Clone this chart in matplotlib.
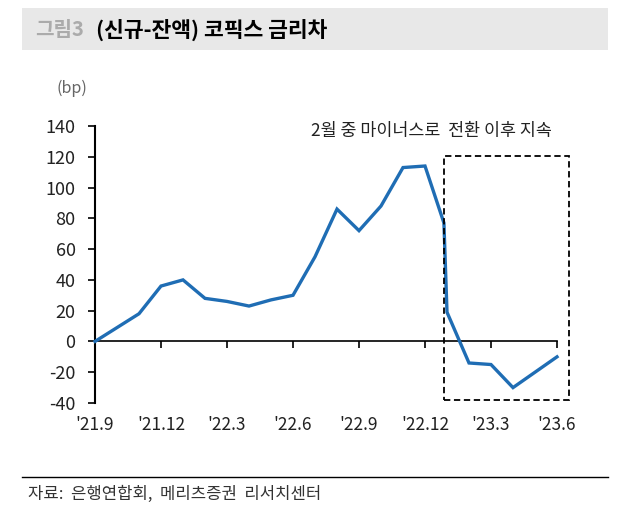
import matplotlib
matplotlib.use("Agg")
import matplotlib.pyplot as plt
from matplotlib.patches import Rectangle

plt.rcParams['font.family'] = ['Noto Sans CJK KR', 'DejaVu Sans']

# data: x as month index from '21.9 (two readings around Jan 2023)
months = [0, 1, 2, 3, 4, 5, 6, 7, 8, 9, 10, 11, 12, 13, 14, 15, 15.86, 16, 17, 18, 19, 20, 21]
values = [0, 9, 18, 36, 40, 28, 26, 23, 27, 30, 55, 86, 72, 88, 113, 114, 77, 19, -14, -15, -30, -20, -10]
tick_pos = [0, 3, 6, 9, 12, 15, 18, 21]
tick_labels = ["'21.9", "'21.12", "'22.3", "'22.6", "'22.9", "'22.12", "'23.3", "'23.6"]
yticks = [-40, -20, 0, 20, 40, 60, 80, 100, 120, 140]
box_x = [15.86, 21.55]
box_y = [-38.2, 120.5]

W, H = 624, 523
fig = plt.figure(figsize=(W / 100, H / 100), dpi=100)

# title band
fig.patches.append(Rectangle((22 / W, 1 - 50 / H), (608 - 22) / W, 42 / H,
                             transform=fig.transFigure, facecolor='#e8e8e8',
                             edgecolor='none', zorder=0))
fig.text(35 / W, 1 - 30 / H, "그림3", fontsize=14.5, fontweight='bold',
         color='#ababab', va='center', ha='left')
fig.text(96 / W, 1 - 30 / H, "(신규-잔액) 코픽스 금리차", fontsize=15.5,
         fontweight='bold', color='black', va='center', ha='left')

ax = fig.add_axes([95 / W, 1 - 403 / H, (557 - 95) / W, (403 - 126) / H])
ax.plot(months, values, color='#1f6db4', linewidth=2.4, solid_joinstyle='miter',
        zorder=3, clip_on=False)

ax.set_xlim(0, 21)
ax.set_ylim(-40, 140)
ax.set_yticks(yticks)
ax.set_yticklabels([str(v) for v in yticks], fontsize=13, color='#222222')
ax.tick_params(axis='y', direction='out', length=5, width=1.2, pad=9)

ax.spines['top'].set_visible(False)
ax.spines['right'].set_visible(False)
ax.spines['left'].set_linewidth(1.5)
ax.spines['bottom'].set_position(('data', 0))
ax.spines['bottom'].set_linewidth(1.2)
ax.set_xticks(tick_pos)
ax.set_xticklabels([])
ax.tick_params(axis='x', direction='out', length=5, width=1.2)

trans = ax.get_xaxis_transform()
for p, lab in zip(tick_pos, tick_labels):
    ax.text(p, -0.08, lab, transform=trans, ha='center', va='center',
            fontsize=12.5, color='#222222')

ax.add_patch(Rectangle((box_x[0], box_y[0]), box_x[1] - box_x[0], box_y[1] - box_y[0],
                       fill=False, edgecolor='black', linestyle=(0, (3.5, 2)),
                       linewidth=1.3, clip_on=False, zorder=4))

fig.text(431 / W, 1 - 131 / H, "2월 중 마이너스로  전환 이후 지속", fontsize=12.5,
         color='#222222', ha='center', va='center')
fig.text(72 / W, 1 - 88 / H, "(bp)", fontsize=11.5, color='#666666',
         ha='center', va='center')

# source
fig.add_artist(plt.Line2D([22 / W, 608 / W], [1 - 477 / H, 1 - 477 / H],
                          transform=fig.transFigure, color='black', linewidth=1))
fig.text(28 / W, 1 - 494 / H, "자료:  은행연합회,  메리츠증권  리서치센터", fontsize=12,
         color='#333333', ha='left', va='center')

fig.savefig("out.png", dpi=100)
